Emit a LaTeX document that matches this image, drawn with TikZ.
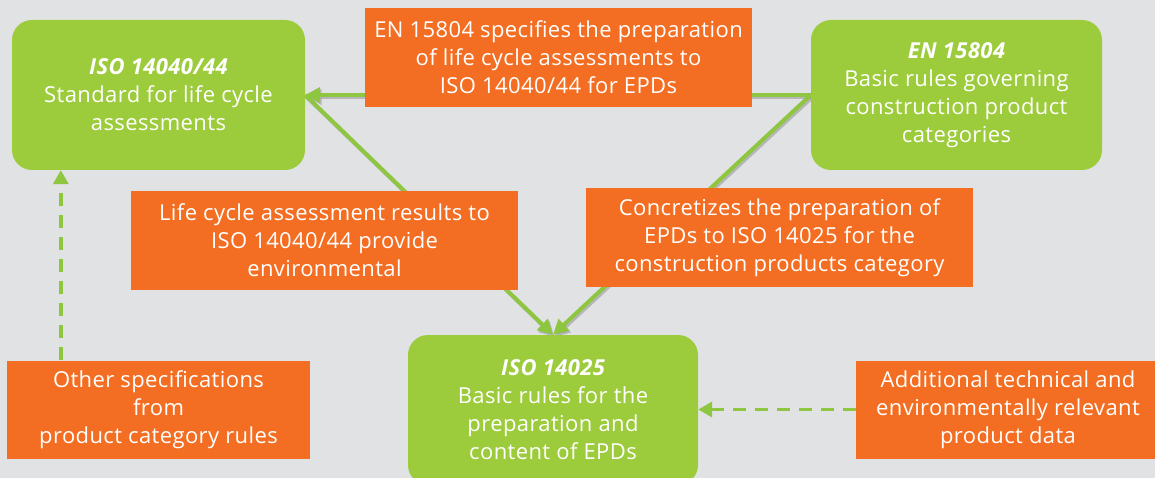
\documentclass[tikz,border=0pt]{standalone}
\usepackage{fontspec}
\setmainfont{Open Sans}[LetterSpace=1.8]
\usetikzlibrary{arrows.meta,calc}
\definecolor{bggray}{HTML}{E1E2E4}
\definecolor{boxgreen}{HTML}{9CCB3B}
\definecolor{boxorange}{HTML}{F36E22}
\definecolor{linegreen}{HTML}{8EC640}
\pgfdeclarelayer{bg}
\pgfdeclarelayer{lines}
\pgfsetlayers{bg,lines,main}
\begin{document}
\begin{tikzpicture}[x=1pt,y=-1pt,
  txt/.style={text=white,align=center,font=\fontsize{22}{28}\selectfont,inner sep=0pt},
  greenbox/.style={txt,fill=boxgreen,rounded corners=20pt,minimum width=#1,minimum height=150pt},
  orangebox/.style={txt,fill=boxorange,minimum width=#1,minimum height=99pt},
  conn/.style={draw=linegreen,line width=4pt,-{Triangle[length=15pt,width=15pt]},
    preaction={draw=black!60,opacity=0.35,line width=4pt,transform canvas={shift={(1.5pt,-2pt)}}}},
  dconn/.style={draw=linegreen,line width=3.5pt,dash pattern=on 13pt off 9pt,
    -{Triangle[length=14pt,width=15pt]}}]
\useasboundingbox (0,0) rectangle (1155,478);
\begin{pgfonlayer}{bg}
\fill[bggray] (0,0) rectangle (1155,478);
\end{pgfonlayer}

\node[greenbox=293pt] (iso40) at (158.5,95) {{\bfseries\itshape ISO 14040/44}\\Standard for life cycle\\assessments};
\node[greenbox=291pt] (en) at (956.5,95) {{\bfseries\itshape EN 15804}\\Basic rules governing\\construction product\\categories};
\node[greenbox=290pt] (iso25) at (553,410) {{\bfseries\itshape ISO 14025}\\Basic rules for the\\preparation and\\content of EPDs};

\node[orangebox=387pt] (spec) at (558.5,57.5) {EN 15804 specifies the preparation\\of life cycle assessments to\\ISO 14040/44 for EPDs};
\node[orangebox=387pt] (lca) at (324.5,240.5) {Life cycle assessment results to\\ISO 14040/44 provide\\environmental};
\node[orangebox=387pt] (conc) at (779.5,237.5) {Concretizes the preparation of\\EPDs to ISO 14025 for the\\construction products category};
\node[orangebox=303pt,minimum height=98pt] (other) at (158.5,409.5) {Other specifications\\from\\product category rules};
\node[orangebox=304pt,minimum height=98pt] (add) at (1008,409.5) {Additional technical and\\environmentally relevant\\product data};

\coordinate (d1s) at ($(other.north west)+(54,0)$);

\begin{pgfonlayer}{lines}
\draw[conn] (en.west) -- (iso40.east);
\draw[conn] (iso40.east) -- (iso25.north);
\draw[conn] (en.west) -- (iso25.north);
\draw[dconn] (d1s) -- (d1s |- iso40.south);
\draw[dconn] (add.west) -- (add.west -| iso25.east);
\end{pgfonlayer}
\end{tikzpicture}
\end{document}
